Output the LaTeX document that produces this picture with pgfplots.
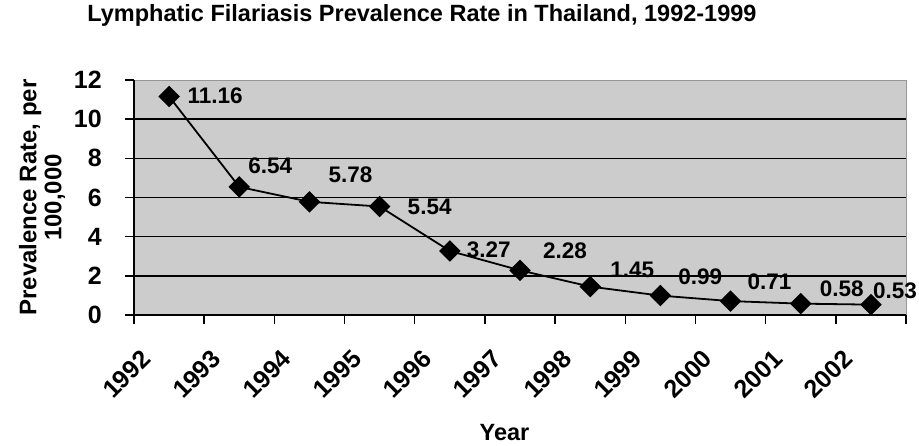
\documentclass[border=0pt]{standalone}
\usepackage{fontspec}
\setmainfont{Liberation Sans}
\usepackage{pgfplots}
\pgfplotsset{compat=1.18}
\usepackage{pgfplotstable}
\definecolor{bg}{RGB}{204,204,204}
\definecolor{edge}{RGB}{150,150,150}
\pgfplotstableread{
x y lab dx dy
0.5 11.16 11.16 46 1
1.5 6.54 6.54 31 21
2.5 5.78 5.78 41 27
3.5 5.54 5.54 50 0
4.5 3.27 3.27 39 1
5.5 2.28 2.28 45 20
6.5 1.45 1.45 42 17
7.5 0.99 0.99 40 19
8.5 0.71 0.71 39 19
9.5 0.58 0.58 41 15
10.5 0.53 0.53 24 14
}\datatable
\newcommand{\bigf}{\bfseries\fontsize{23.5}{28}\selectfont}
\newcommand{\tickf}{\bfseries\fontsize{25}{30}\selectfont}
\begin{document}
\begin{tikzpicture}[x=1pt,y=1pt]
\useasboundingbox (0,0) rectangle (919,445);
\begin{axis}[
  at={(134pt,130pt)}, anchor=south west,
  scale only axis, width=772pt, height=235pt,
  xmin=0, xmax=11, ymin=0, ymax=12,
  xtick={0,...,11},
  xticklabels={1992,1993,1994,1995,1996,1997,1998,1999,2000,2001,2002,{}},
  ytick={0,2,...,12},
  extra y ticks={2,4,6,8,10},
  extra y tick labels={},
  extra y tick style={grid=major, major grid style={black, line width=1.5pt}},
  axis background/.style={fill=bg, draw=edge, line width=1pt},
  axis x line*=bottom, axis y line*=left,
  axis line style={black, line width=1.5pt},
  tick align=outside, major tick length=9pt,
  tick style={black, line width=1.5pt},
  /pgf/number format/assume math mode=true,
  yticklabel style={font=\tickf, anchor=east, inner sep=0pt},
  yticklabel shift=23pt,
  x tick label style={font=\tickf, xshift=6pt, yshift=-24pt, inner sep=0pt, rotate=45, anchor=north east},
  title={Lymphatic Filariasis Prevalence Rate in Thailand, 1992-1999},
  title style={at={(axis description cs:-0.065,1.225)}, anchor=base west, font=\bigf},
  xlabel={Year},
  xlabel style={at={(axis description cs:0.48,-0.498)}, anchor=center, font=\bigf},
  ylabel={Prevalence Rate, per\\100,000},
  ylabel style={at={(axis description cs:-0.119,0.5)}, anchor=center, align=center, rotate=0, font=\bfseries\fontsize{24}{25}\selectfont},
  clip=false,
]
\addplot[black, line width=1.8pt, mark=square*, mark size=6.7pt,
  mark options={rotate=45, solid, fill=black},
  point meta=explicit symbolic,
  nodes near coords,
  visualization depends on={\thisrow{dx}\as\dx},
  visualization depends on={\thisrow{dy}\as\dy},
  every node near coord/.append style={anchor=center, xshift=\dx pt, yshift=\dy pt, font=\bfseries\fontsize{22.5}{27}\selectfont, inner sep=0pt}
] table[x=x, y=y, meta=lab] {\datatable};
\end{axis}
\end{tikzpicture}
\end{document}
